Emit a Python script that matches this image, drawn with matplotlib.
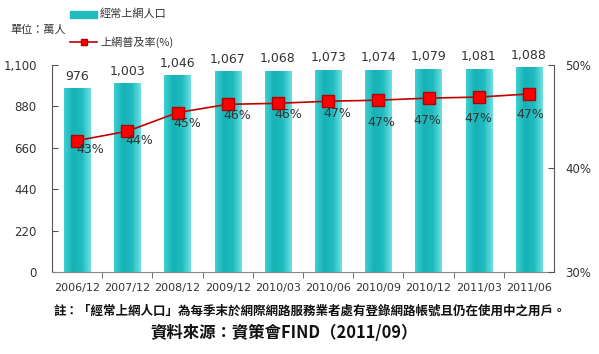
import numpy as np
import matplotlib.pyplot as plt
from matplotlib.colors import LinearSegmentedColormap

plt.rcParams['font.family'] = ['Noto Sans CJK TC', 'DejaVu Sans']

periods = ['2006/12', '2007/12', '2008/12', '2009/12', '2010/03',
           '2010/06', '2010/09', '2010/12', '2011/03', '2011/06']
users = [976, 1003, 1046, 1067, 1068, 1073, 1074, 1079, 1081, 1088]
rate = [42.7, 43.6, 45.4, 46.2, 46.3, 46.5, 46.6, 46.8, 46.9, 47.2]
rate_labels = ['43%', '44%', '45%', '46%', '46%', '47%', '47%', '47%', '47%', '47%']

# pixel offsets of the percentage labels from their markers (as placed in the original)
label_dx = [13, 12, 10, 10, 10, 9, 3, -1, 0, 1]
label_dy = [-9, -9, -11, -11, -11, -12, -22, -22, -21, -21]

fig = plt.figure(figsize=(5.99, 3.54), dpi=100)
ax = fig.add_axes([52 / 599, 1 - 272 / 354, (554 - 52) / 599, (272 - 65) / 354])
ax2 = ax.twinx()

x = np.arange(len(periods))
width = 0.52

# gradient bars: draw invisible bars, fill each with a horizontal gradient
grad = LinearSegmentedColormap.from_list('cy', ['#3fcfd1', '#16b3b6', '#1fbbbe', '#6fe0e2'])
bars = ax.bar(x, users, width=width, color='none', edgecolor='none', zorder=2)
g = np.linspace(0, 1, 64).reshape(1, -1)
for b in bars:
    x0, w, h = b.get_x(), b.get_width(), b.get_height()
    im = ax.imshow(g, cmap=grad, aspect='auto', extent=[x0, x0 + w, 0, h], zorder=2)
    im.set_clip_path(b)

for xi, v in zip(x, users):
    ax.text(xi, v + 30, f'{v:,}', ha='center', va='bottom', fontsize=9, color='#333333',
            family='DejaVu Sans')

ax.set_xlim(-0.5, len(periods) - 0.5)
ax.set_ylim(0, 1100)
ax.set_yticks([0, 220, 440, 660, 880, 1100])
ax.set_yticklabels(['0', '220', '440', '660', '880', '1,100'], fontsize=8.5, color='#333333',
                   family='DejaVu Sans')
ax.set_xticks(x)
ax.set_xticklabels(periods, fontsize=8, color='#333333', family='DejaVu Sans')
ax.set_xticks(np.arange(len(periods) - 1) + 0.5, minor=True)
ax.tick_params(axis='x', which='major', length=0, pad=8)
ax.tick_params(axis='x', which='minor', length=4, direction='out', color='#555555')
ax.tick_params(axis='y', length=4, direction='in', color='#555555', pad=11)
for s in ['top', 'right']:
    ax.spines[s].set_visible(False)
ax.spines['left'].set_color('#555555')
ax.spines['bottom'].set_color('#888888')

line, = ax2.plot(x, rate, color='#c00000', lw=1.2, marker='s', markersize=9,
                 markerfacecolor='#ff0000', markeredgecolor='#b00000', zorder=5)
for xi, r, lab, dx, dy in zip(x, rate, rate_labels, label_dx, label_dy):
    ax2.annotate(lab, (xi, r), xytext=(dx, dy), textcoords='offset pixels',
                 ha='center', va='center', fontsize=9, color='#333333',
                 family='DejaVu Sans', zorder=6)
ax2.set_ylim(30, 50)
ax2.set_yticks([30, 40, 50])
ax2.set_yticklabels(['30%', '40%', '50%'], fontsize=8.5, color='#333333', family='DejaVu Sans')
ax2.tick_params(axis='y', length=4, direction='in', color='#555555', pad=8)
for s in ['top', 'left', 'bottom']:
    ax2.spines[s].set_visible(False)
ax2.spines['right'].set_color('#555555')

# legend rows drawn at the top left
fig.patches.append(plt.Rectangle((70 / 599, 1 - 18 / 354), 27 / 599, 7 / 354,
                                 transform=fig.transFigure, color='#22bcbf'))
fig.text(100 / 599, 1 - 14 / 354, '經常上網人口', fontsize=8, va='center', color='#333333')
fig.text(10 / 599, 1 - 30 / 354, '單位：萬人', fontsize=8, va='center', color='#333333')
fig.lines.append(plt.Line2D([70 / 599, 97 / 599], [1 - 42 / 354] * 2, transform=fig.transFigure,
                            color='#c00000', lw=1.2))
fig.lines.append(plt.Line2D([83.5 / 599], [1 - 42 / 354], transform=fig.transFigure, marker='s',
                            markersize=5, markerfacecolor='#ff0000', markeredgecolor='#b00000'))
fig.text(100 / 599, 1 - 42 / 354, '上網普及率(%)', fontsize=8, va='center', color='#333333')

fig.text(310 / 599, 1 - 311 / 354, '註：「經常上網人口」為每季末於網際網路服務業者處有登錄網路帳號且仍在使用中之用戶。',
         ha='center', va='center', fontsize=9, fontweight='bold', color='#111111')
fig.text(284 / 599, 1 - 333 / 354, '資料來源：資策會FIND（2011/09）',
         ha='center', va='center', fontsize=11.8, fontweight='bold', color='#111111')

fig.savefig('out.png', dpi=100)
